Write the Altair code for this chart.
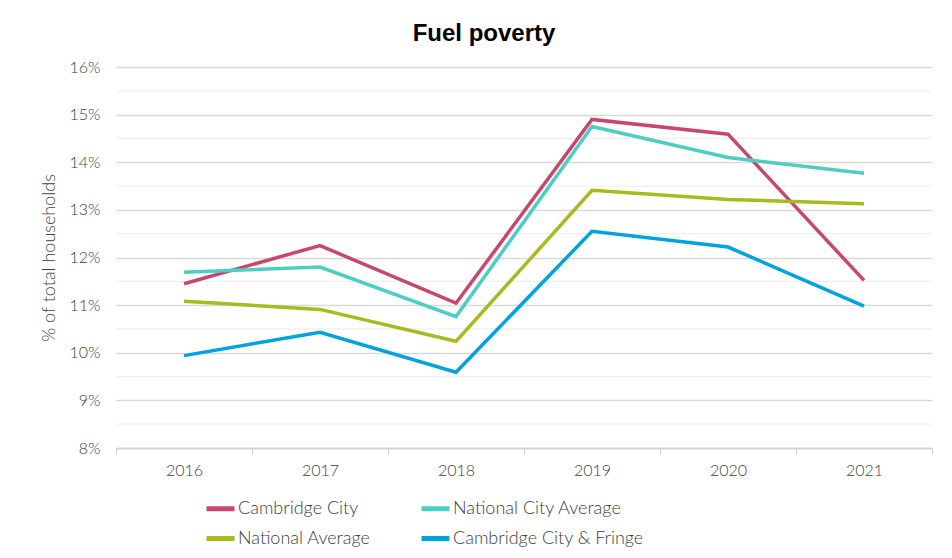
import altair as alt
import pandas as pd

years = ["2016", "2017", "2018", "2019", "2020", "2021"]
series_names = ["Cambridge City", "National City Average", "National Average", "Cambridge City & Fringe"]
cambridge_city = [11.45, 12.25, 11.04, 14.90, 14.59, 11.52]
national_city_avg = [11.69, 11.80, 10.76, 14.75, 14.10, 13.77]
national_avg = [11.08, 10.91, 10.24, 13.41, 13.22, 13.13]
cambridge_fringe = [9.94, 10.43, 9.59, 12.55, 12.22, 10.98]
colors = ["#C8476F", "#4ECDC4", "#AAB91E", "#00A3E0"]
# legend is laid out column by column: column 1 then column 2
legend_order = ["Cambridge City", "National Average", "National City Average", "Cambridge City & Fringe"]
y_ticks = [8, 9, 10, 11, 12, 13, 14, 15, 16]
minor_ticks = [8.5, 9.5, 10.5, 11.5, 12.5, 13.5, 14.5, 15.5]

rows = []
for name, vals in zip(series_names, [cambridge_city, national_city_avg, national_avg, cambridge_fringe]):
    for yr, v in zip(years, vals):
        rows.append({"Year": yr, "Series": name, "Value": v})
df = pd.DataFrame(rows)
minor_df = pd.DataFrame({"v": minor_ticks})
color_map = dict(zip(series_names, colors))

FONT = "Lato"
TXT = "#404040"

yscale = alt.Scale(domain=[8, 16], nice=False, zero=False)

minor = alt.Chart(minor_df).mark_rule(color="#efefef", strokeWidth=1.2).encode(
    y=alt.Y("v:Q", scale=yscale)
)

lines = alt.Chart(df).mark_line(strokeWidth=3.5).encode(
    x=alt.X("Year:N", sort=years,
            axis=alt.Axis(title=None, labelAngle=0, tickBand="extent", tickSize=6,
                          tickColor="#d0d0d0", domainColor="#d0d0d0", domainWidth=1.5,
                          labelFontSize=16, labelColor=TXT, labelFont=FONT, labelFontWeight=300,
                          labelPadding=8, grid=False),
            scale=alt.Scale(paddingInner=0, paddingOuter=0)),
    y=alt.Y("Value:Q", scale=yscale,
            axis=alt.Axis(title="% of total households", values=y_ticks,
                          labelExpr="datum.value + '%'", ticks=False, domain=False,
                          gridColor="#d9d9d9", gridWidth=1.5,
                          labelFontSize=16, labelColor=TXT, labelFont=FONT, labelFontWeight=300,
                          labelPadding=16, titleFontSize=18, titleColor=TXT, titleFont=FONT,
                          titleFontWeight=300, titlePadding=10)),
    color=alt.Color("Series:N",
                    scale=alt.Scale(domain=legend_order, range=[color_map[s] for s in legend_order]),
                    legend=alt.Legend(title=None, orient="none", legendX=88, legendY=425,
                                      columns=2, columnPadding=40, rowPadding=3,
                                      symbolType="stroke", symbolStrokeWidth=5, symbolSize=784,
                                      labelFontSize=18, labelColor=TXT, labelFont=FONT,
                                      labelFontWeight=300, labelOffset=1, labelLimit=300)),
    detail="Series:N",
)

chart = alt.layer(minor, lines).properties(
    width=816, height=381,
    title=alt.TitleParams("Fuel poverty", fontSize=24, font="Liberation Sans", fontWeight="bold",
                          color="#000000", anchor="middle", dx=-40, offset=13),
    autosize=alt.AutoSizeParams(type="none"),
    padding={"left": 108, "top": 59, "right": 4, "bottom": 110},
).configure_view(stroke=None)

chart.save("out.html", embed_options={"renderer": "svg", "actions": False})
